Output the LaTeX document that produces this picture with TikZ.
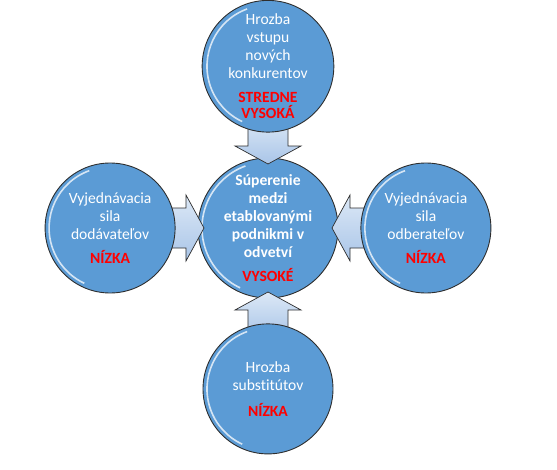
\documentclass[tikz,border=0pt]{standalone}
\usepackage{fontspec}
\setmainfont{Carlito}[Ligatures=NoCommon]
\usetikzlibrary{positioning}
\definecolor{circblue}{HTML}{5B9BD5}
\definecolor{rimgray}{HTML}{2E2E2E}
\definecolor{arrowlight}{HTML}{DCE8F6}
\definecolor{arrowdark}{HTML}{A9C5E8}
\definecolor{levelred}{HTML}{FF0000}
\newcommand{\forcelevel}[1]{\textcolor{levelred}{\bfseries #1}}

\begin{document}
\begin{tikzpicture}[x=1pt,y=1pt,
    force/.style={circle,draw=rimgray,line width=0.9pt,fill=circblue,
        minimum size={2*#1},inner sep=0pt,text=white,align=center,
        font=\fontsize{15.6}{18}\selectfont,
        path picture={\draw[white,opacity=0.75,line width=1.6pt]
            (path picture bounding box.center) ++(110:{(#1-4)*1pt})
            arc[start angle=110,end angle=245,radius={(#1-4)*1pt}];}},
    force/.default=65,
    push/.style={draw=rimgray,line width=0.7pt,
        top color=arrowlight,bottom color=arrowdark}]
\useasboundingbox (-268,-241) rectangle (289,228);

\node[force=70] (Rival) at (0,0)
    {\bfseries Súperenie\\\bfseries medzi\\\bfseries etablovanými\\
     \bfseries podnikmi v\\\bfseries odvetví\\[6pt]\forcelevel{VYSOKÉ}};

% block arrows pointing into the rivalry circle
\foreach \ang in {0,90,180,270}
    \draw[push,shift={(Rival.center)},rotate=\ang]
        (64,0) -- (82,33) -- (82,20) -- (110,20) -- (110,-20)
        -- (82,-20) -- (82,-33) -- cycle;

\node[force,above=25pt of Rival] (Entry)
    {Hrozba\\vstupu\\nových\\konkurentov\\[6pt]\forcelevel{STREDNE}\\[-2pt]\forcelevel{VYSOKÁ}};
\node[force,below=25pt of Rival] (Substitutes)
    {Hrozba\\substitútov\\[8pt]\forcelevel{NÍZKA}};
\node[force,left=22pt of Rival] (Suppliers)
    {Vyjednávacia\\sila\\dodávateľov\\[6pt]\forcelevel{NÍZKA}};
\node[force,right=22pt of Rival] (Buyers)
    {Vyjednávacia\\sila\\odberateľov\\[6pt]\forcelevel{NÍZKA}};
\end{tikzpicture}
\end{document}
